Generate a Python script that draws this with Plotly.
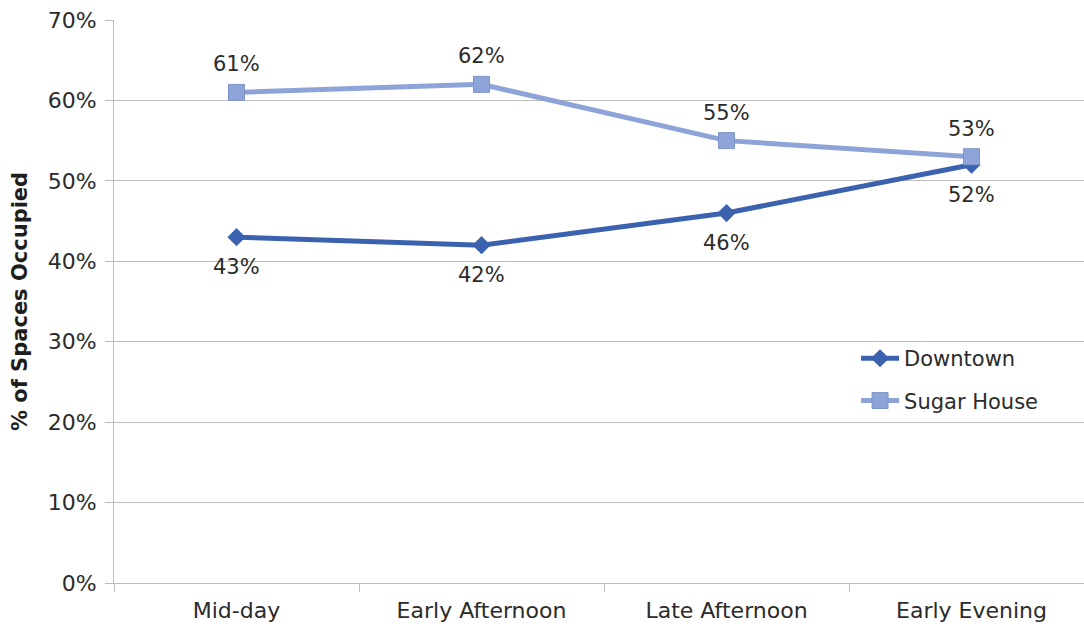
import plotly.graph_objects as go

periods = ["Mid-day", "Early Afternoon", "Late Afternoon", "Early Evening"]
downtown = [0.43, 0.42, 0.46, 0.52]
sugar_house = [0.61, 0.62, 0.55, 0.53]
y_ticks = [0, 0.1, 0.2, 0.3, 0.4, 0.5, 0.6, 0.7]

FONT = "DejaVu Sans"
TEXT_COLOR = "#2b2b2b"
GRID = "#BDBDBD"
DT_COLOR = "#3A62AE"
SH_COLOR = "#8EA4D8"

fig = go.Figure()

fig.add_trace(go.Scatter(
    x=periods, y=downtown, name="Downtown", legendgroup="dt",
    mode="lines+markers",
    line=dict(color=DT_COLOR, width=5),
    marker=dict(symbol="diamond", size=14, color=DT_COLOR),
))

fig.add_trace(go.Scatter(
    x=periods, y=sugar_house, name="Sugar House", legendgroup="sh",
    mode="lines+markers",
    line=dict(color=SH_COLOR, width=5),
    marker=dict(symbol="square", size=16, color=SH_COLOR,
                line=dict(color="#7F95C9", width=1)),
))

# value labels: Downtown below its points, Sugar House above
for p, v in zip(periods, downtown):
    fig.add_annotation(x=p, y=v, text=f"{v:.0%}", showarrow=False,
                       yshift=-30, font=dict(family=FONT, size=21, color=TEXT_COLOR))
for p, v in zip(periods, sugar_house):
    fig.add_annotation(x=p, y=v, text=f"{v:.0%}", showarrow=False,
                       yshift=28, font=dict(family=FONT, size=21, color=TEXT_COLOR))

fig.update_layout(
    width=1084, height=624,
    margin=dict(l=114, r=0, t=20, b=41),
    paper_bgcolor="white", plot_bgcolor="white",
    font=dict(family=FONT, size=21, color=TEXT_COLOR),
    showlegend=True,
    legend=dict(
        x=0.765, y=0.435, xanchor="left", yanchor="top",
        bgcolor="rgba(0,0,0,0)", font=dict(size=21, color=TEXT_COLOR),
        itemwidth=38, tracegroupgap=12,
    ),
)

fig.update_xaxes(
    type="category", range=[-0.5, 3.459],
    showgrid=False, showline=True, linecolor=GRID, linewidth=1,
    ticks="outside", tickson="boundaries", ticklen=8, tickcolor=GRID,
    ticklabelstandoff=8,
    tickfont=dict(family=FONT, size=22, color=TEXT_COLOR),
)

fig.update_yaxes(
    range=[0, 0.7], tickvals=y_ticks, tickformat=".0%",
    showgrid=True, gridcolor=GRID, gridwidth=1,
    showline=True, linecolor=GRID, linewidth=1,
    ticks="outside", ticklen=8, tickcolor=GRID,
    ticklabelstandoff=4,
    zeroline=False,
    tickfont=dict(family=FONT, size=22, color=TEXT_COLOR),
    title=dict(text="<b>% of Spaces Occupied</b>",
               font=dict(family=FONT, size=21, color="#1e1e1e"), standoff=14),
)

fig.write_html("out.html")
